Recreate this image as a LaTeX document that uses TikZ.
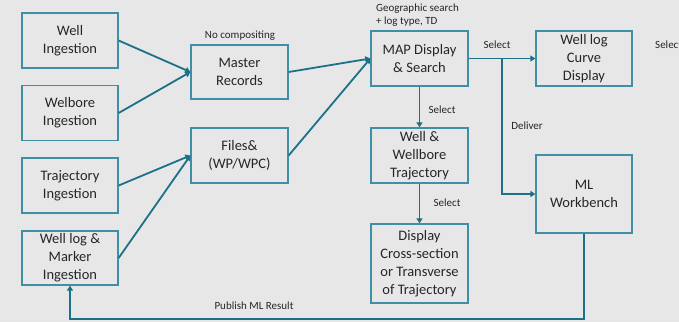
\documentclass[tikz,border=0pt]{standalone}
\usepackage{fontspec}
\setmainfont{Carlito}
\usetikzlibrary{arrows.meta}
\definecolor{bg}{HTML}{E7E7E7}
\definecolor{boxc}{HTML}{3F90A6}
\definecolor{arrc}{HTML}{1C7189}
\definecolor{txt}{HTML}{262626}
\tikzset{
  box/.style={draw=boxc, line width=1.3pt, minimum width=96pt, minimum height=55pt,
    align=center, text=txt, font=\fontsize{14.5}{18}\selectfont, inner sep=1pt},
  conn/.style={draw=arrc, line width=1.8pt, -{Triangle[length=5pt,width=6pt]}},
  plain/.style={draw=arrc, line width=1.8pt},
  lbl/.style={text=txt, font=\fontsize{11}{12}\selectfont, inner sep=0pt}
}
\begin{document}
\begin{tikzpicture}[x=1pt,y=-1pt]
\fill[bg] (0,0) rectangle (679,322);
\useasboundingbox (0,0) rectangle (679,322);
% boxes
\node[box] (wi) at (70,40.5) {Well\\Ingestion};
\node[box] (wb) at (70,113) {Welbore\\Ingestion};
\node[box] (tr) at (70,185.5) {Trajectory\\Ingestion};
\node[box, minimum height=54pt] (wl) at (70,258) {Well log \&\\Marker\\Ingestion};
\node[box, minimum width=97pt, minimum height=54pt] (mr) at (239.5,72) {Master\\Records};
\node[box, minimum width=97pt] (fi) at (239.5,155.5) {Files\&\\(WP/WPC)};
\node[box, minimum width=97pt] (map) at (419.5,58.5) {MAP Display\\\& Search};
\node[box] (wlc) at (584,58.5) {Well log\\Curve\\Display};
\node[box, minimum width=97pt] (wwt) at (419.5,155.5) {Well \&\\Wellbore\\Trajectory};
\node[box, minimum width=97pt, minimum height=79pt] (dcs) at (419.5,263.5) {Display\\Cross-section\\or Transverse\\of Trajectory};
\node[box, minimum height=78pt] (ml) at (584,194) {ML\\Workbench};
% labels
\node[lbl] (nc) at (240,36) {No compositing};
\node[lbl, align=left, anchor=north west, font=\fontsize{11}{12.5}\selectfont] (geo) at (376,4) {Geographic search\\+ log type, TD};
\node[lbl] (s1) at (497,45) {Select};
\node[lbl, anchor=west] (s0) at (655,45) {Select};
\node[lbl] (s2) at (442,110) {Select};
\node[lbl] (s3) at (447,203) {Select};
\node[lbl] (dl) at (527,126) {Deliver};
\node[lbl] (pub) at (254,306) {Publish ML Result};
% connectors
\draw[conn] (wi.east) -- (mr.west);
\draw[conn] (wb.east) -- (mr.west);
\draw[conn] (tr.east) -- (fi.west);
\draw[conn] (wl.east) -- (fi.west);
\draw[conn] (mr.east) -- (map.west);
\draw[conn] (fi.east) -- (map.west);
\draw[conn] (map.east) -- (wlc.west);
\coordinate (br) at (502,58.5);
\draw[conn] (br) |- (ml.west);
\draw[conn] (map.south) -- (wwt.north);
\draw[conn] (wwt.south) -- (dcs.north);
\coordinate (fb) at (584,319);
\draw[conn] (ml.south) -- (fb) -| (wl.south);
\end{tikzpicture}
\end{document}
